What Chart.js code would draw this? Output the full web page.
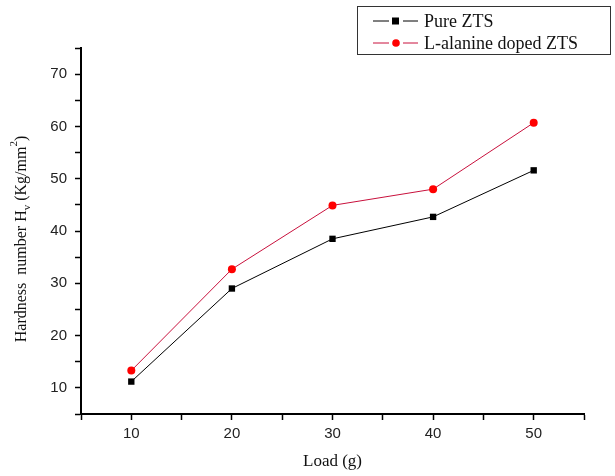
<!DOCTYPE html>
<html>
<head>
<meta charset="utf-8">
<script src="https://cdn.jsdelivr.net/npm/chart.js@4"></script>
<style>
    body { margin: 0; background: #fff; }
    #wrap { width: 615px; height: 476px; position: relative; }
</style>
</head>
<body>
<div id="wrap"><canvas id="hardnessChart"></canvas></div>
<script>
// Data
const loads = [10, 20, 30, 40, 50];
const pureZTS = [11.2, 29.0, 38.5, 42.7, 51.6];
const dopedZTS = [13.3, 32.7, 44.9, 48.0, 60.7];
const xTickLabels = [10, 20, 30, 40, 50];
const yTickLabels = [10, 20, 30, 40, 50, 60, 70];
const seriesNames = ['Pure ZTS', 'L-alanine doped ZTS'];

const SERIF = '"Liberation Serif", "Times New Roman", serif';
const SANS = '"Liberation Sans", Arial, sans-serif';

function toPoints(values) {
    return loads.map((x, i) => ({ x: x, y: values[i] }));
}

/**
 * Y axis title with subscript / superscript, plus the boxed legend
 */
const extrasPlugin = {
    id: 'extras',
    afterDraw(chart) {
        const ctx = chart.ctx;
        const area = chart.chartArea;

        // Y axis title
        ctx.save();
        ctx.translate(22, (area.top + area.bottom) / 2 + 8);
        ctx.rotate(-Math.PI / 2);
        ctx.fillStyle = '#111';
        ctx.textBaseline = 'middle';
        const parts = [
            { t: 'Hardness  number H', size: 16, dy: 0 },
            { t: 'v', size: 11, dy: 5 },
            { t: ' (Kg/mm', size: 16, dy: 0 },
            { t: '2', size: 11, dy: -8 },
            { t: ')', size: 16, dy: 0 }
        ];
        let total = 0;
        parts.forEach(p => {
            ctx.font = p.size + 'px ' + SERIF;
            p.w = ctx.measureText(p.t).width;
            total += p.w;
        });
        let x = -total / 2;
        parts.forEach(p => {
            ctx.font = p.size + 'px ' + SERIF;
            ctx.fillText(p.t, x, p.dy);
            x += p.w;
        });
        ctx.restore();

        // Legend box
        ctx.save();
        ctx.strokeStyle = '#333';
        ctx.lineWidth = 1;
        ctx.strokeRect(357.5, 6.5, 253, 48);
        chart.data.datasets.forEach((ds, i) => {
            const y = 21 + i * 22;
            ctx.strokeStyle = ds.borderColor;
            ctx.lineWidth = 1;
            ctx.beginPath();
            ctx.moveTo(373, y); ctx.lineTo(389, y);
            ctx.moveTo(403, y); ctx.lineTo(418, y);
            ctx.stroke();
            ctx.fillStyle = ds.pointBackgroundColor;
            if (ds.pointStyle === 'rect') {
                ctx.fillRect(392, y - 3.5, 7, 7);
            } else {
                ctx.beginPath();
                ctx.arc(396, y, 3.8, 0, Math.PI * 2);
                ctx.fill();
            }
            ctx.fillStyle = '#111';
            ctx.font = '18px ' + SERIF;
            ctx.textBaseline = 'middle';
            ctx.fillText(ds.label, 424, y + 1);
        });
        ctx.restore();
    }
};

const ctx = document.getElementById('hardnessChart').getContext('2d');
new Chart(ctx, {
    type: 'line',
    data: {
        datasets: [
            {
                label: seriesNames[0],
                data: toPoints(pureZTS),
                borderColor: '#000000',
                borderWidth: 1,
                pointStyle: 'rect',
                pointRadius: 4.5,
                pointBackgroundColor: '#000000',
                pointBorderColor: '#000000',
                pointBorderWidth: 0,
                tension: 0
            },
            {
                label: seriesNames[1],
                data: toPoints(dopedZTS),
                borderColor: '#c8103c',
                borderWidth: 1,
                pointStyle: 'circle',
                pointRadius: 4,
                pointBackgroundColor: '#ff0000',
                pointBorderColor: '#ff0000',
                pointBorderWidth: 0,
                tension: 0
            }
        ]
    },
    options: {
        responsive: true,
        maintainAspectRatio: false,
        animation: false,
        layout: { padding: { top: 48, right: 31, left: 0, bottom: 0 } },
        plugins: {
            legend: { display: false },
            tooltip: { enabled: false }
        },
        scales: {
            x: {
                type: 'linear',
                min: 5,
                max: 55,
                afterFit(scale) { scale.height = 62; },
                border: { color: '#000', width: 2 },
                grid: { drawOnChartArea: false, drawTicks: true, tickLength: 6, tickColor: '#000', tickWidth: 1.5 },
                ticks: {
                    stepSize: 5,
                    color: '#222',
                    font: { family: SANS, size: 15 },
                    padding: 5,
                    maxRotation: 0,
                    autoSkip: false,
                    callback: v => xTickLabels.includes(v) ? String(v) : ''
                },
                title: {
                    display: true,
                    text: 'Load (g)',
                    color: '#111',
                    font: { family: SERIF, size: 17 },
                    padding: { top: 4 }
                }
            },
            y: {
                type: 'linear',
                min: 5,
                max: 75,
                afterFit(scale) { scale.width = 81; },
                border: { color: '#000', width: 2 },
                grid: { drawOnChartArea: false, drawTicks: true, tickLength: 6, tickColor: '#000', tickWidth: 1.5 },
                ticks: {
                    stepSize: 5,
                    color: '#222',
                    font: { family: SANS, size: 15 },
                    padding: 8,
                    autoSkip: false,
                    callback: v => yTickLabels.includes(v) ? String(v) : ''
                }
            }
        }
    },
    plugins: [extrasPlugin]
});
</script>
</body>
</html>
